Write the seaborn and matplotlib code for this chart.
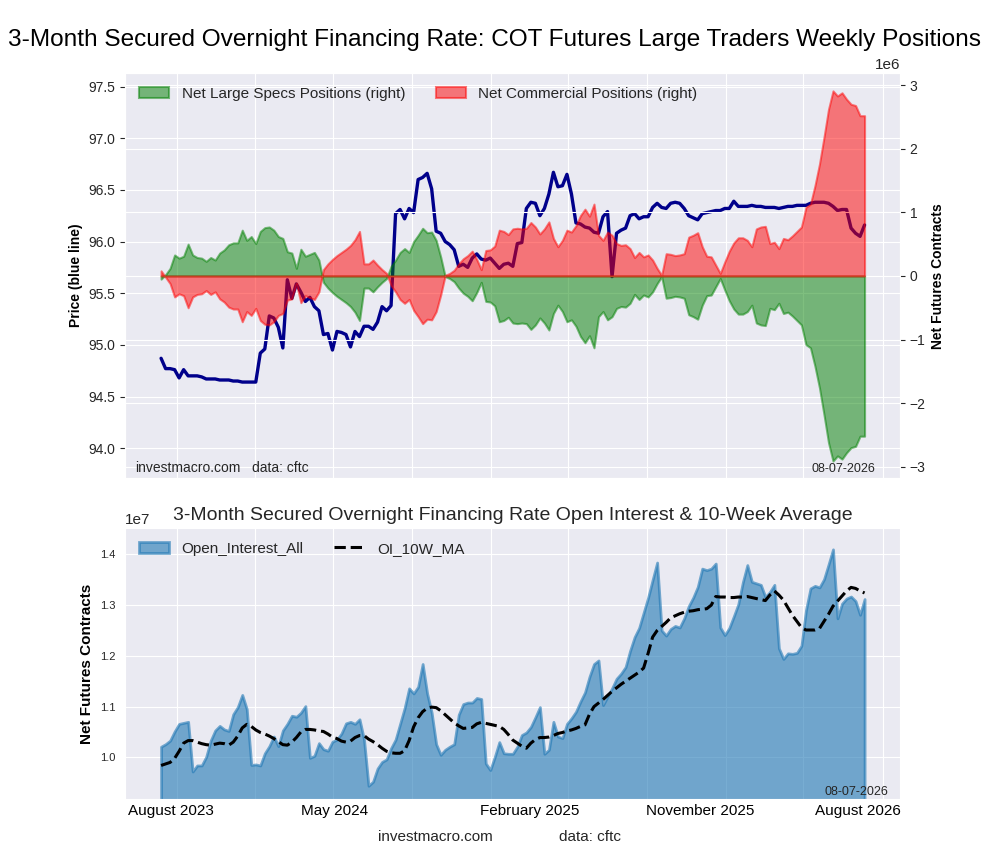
# SOFR 3-month futures: COT large traders positions + open interest
import pandas as pd
import numpy as np
import matplotlib
matplotlib.use("Agg")
import matplotlib.pyplot as plt
import matplotlib.dates as mdates
import matplotlib.ticker as mticker
import seaborn as sns

sns.set_style("darkgrid")
plt.rcParams["font.family"] = ["Liberation Sans", "DejaVu Sans"]

# weekly report dates
weeks = pd.date_range("2023-08-08", periods=157, freq="7D")

# price of the contract (blue line)
price = [
    94.87, 94.77, 94.77, 94.76, 94.68, 94.76, 94.70, 94.70, 94.70, 94.69,
    94.67, 94.67, 94.67, 94.66, 94.66, 94.66, 94.65, 94.65, 94.64, 94.64,
    94.64, 94.64, 94.92, 94.96, 95.28, 95.26, 95.17, 94.97, 95.63, 95.45,
    95.59, 95.51, 95.42, 95.46, 95.37, 95.33, 95.10, 95.11, 94.95, 95.13,
    95.12, 95.10, 94.98, 95.13, 95.08, 95.18, 95.18, 95.15, 95.22, 95.37,
    95.33, 95.38, 96.27, 96.31, 96.22, 96.32, 96.28, 96.60, 96.62, 96.66,
    96.51, 96.10, 96.08, 96.00, 95.97, 95.92, 95.76, 95.78, 95.75, 95.84,
    95.88, 95.83, 95.82, 95.84, 95.79, 95.74, 95.78, 95.79, 95.76, 95.98,
    95.99, 96.32, 96.38, 96.37, 96.25, 96.32, 96.46, 96.67, 96.53, 96.54,
    96.65, 96.46, 96.18, 96.17, 96.14, 96.13, 96.09, 96.08, 96.24, 96.29,
    95.66, 96.08, 96.11, 96.13, 96.25, 96.27, 96.22, 96.24, 96.24, 96.33,
    96.37, 96.33, 96.32, 96.37, 96.38, 96.37, 96.32, 96.25, 96.23, 96.21,
    96.27, 96.28, 96.29, 96.30, 96.30, 96.32, 96.32, 96.39, 96.34, 96.34,
    96.34, 96.35, 96.34, 96.34, 96.33, 96.33, 96.33, 96.32, 96.33, 96.34,
    96.34, 96.35, 96.35, 96.35, 96.37, 96.38, 96.38, 96.38, 96.37, 96.34,
    96.30, 96.31, 96.31, 96.13, 96.08, 96.05, 96.16,
]

# net large speculator positions, millions of contracts
specs_mln = [
    -0.05, 0.02, 0.12, 0.33, 0.28, 0.31, 0.50, 0.33, 0.29, 0.28,
    0.23, 0.29, 0.25, 0.36, 0.41, 0.49, 0.52, 0.52, 0.72, 0.56,
    0.62, 0.51, 0.70, 0.76, 0.77, 0.72, 0.62, 0.59, 0.38, 0.36,
    0.12, 0.42, 0.31, 0.34, 0.37, 0.25, -0.10, -0.19, -0.26, -0.32,
    -0.37, -0.42, -0.48, -0.57, -0.70, -0.19, -0.19, -0.25, -0.17, -0.10,
    -0.04, 0.15, 0.25, 0.37, 0.43, 0.37, 0.54, 0.64, 0.75, 0.68,
    0.69, 0.56, 0.30, -0.01, -0.04, -0.09, -0.19, -0.27, -0.32, -0.39,
    -0.26, -0.10, -0.40, -0.41, -0.47, -0.72, -0.70, -0.65, -0.74, -0.75,
    -0.74, -0.75, -0.84, -0.77, -0.66, -0.74, -0.85, -0.59, -0.46, -0.56,
    -0.72, -0.69, -0.79, -0.95, -1.05, -0.94, -1.13, -0.64, -0.56, -0.69,
    -0.64, -0.51, -0.48, -0.49, -0.43, -0.29, -0.37, -0.30, -0.33, -0.25,
    -0.12, -0.01, -0.35, -0.34, -0.32, -0.33, -0.35, -0.61, -0.64, -0.68,
    -0.46, -0.31, -0.30, -0.17, -0.04, -0.22, -0.39, -0.52, -0.60, -0.60,
    -0.56, -0.46, -0.74, -0.77, -0.78, -0.51, -0.53, -0.43, -0.59, -0.57,
    -0.63, -0.70, -0.77, -1.08, -1.13, -1.42, -1.76, -2.18, -2.62, -2.91,
    -2.83, -2.88, -2.78, -2.70, -2.68, -2.52, -2.52,
]

# net commercial positions, millions of contracts
comm_mln = [
    0.08, -0.02, -0.12, -0.33, -0.28, -0.31, -0.50, -0.33, -0.29, -0.28,
    -0.23, -0.29, -0.25, -0.36, -0.41, -0.49, -0.52, -0.52, -0.72, -0.56,
    -0.62, -0.51, -0.70, -0.76, -0.77, -0.72, -0.62, -0.59, -0.38, -0.36,
    -0.12, -0.42, -0.31, -0.34, -0.37, -0.25, 0.10, 0.19, 0.26, 0.32,
    0.37, 0.42, 0.48, 0.57, 0.70, 0.19, 0.19, 0.25, 0.17, 0.10,
    0.04, -0.15, -0.25, -0.37, -0.43, -0.37, -0.54, -0.64, -0.75, -0.68,
    -0.69, -0.56, -0.30, 0.01, 0.04, 0.09, 0.19, 0.27, 0.32, 0.39,
    0.26, 0.10, 0.40, 0.41, 0.47, 0.72, 0.70, 0.65, 0.74, 0.75,
    0.74, 0.75, 0.84, 0.77, 0.66, 0.74, 0.85, 0.59, 0.46, 0.56,
    0.72, 0.69, 0.79, 0.95, 1.05, 0.94, 1.13, 0.64, 0.56, 0.69,
    0.64, 0.51, 0.48, 0.49, 0.43, 0.29, 0.37, 0.30, 0.33, 0.25,
    0.12, 0.01, 0.35, 0.34, 0.32, 0.33, 0.35, 0.61, 0.64, 0.68,
    0.46, 0.31, 0.30, 0.17, 0.04, 0.22, 0.39, 0.52, 0.60, 0.60,
    0.56, 0.46, 0.74, 0.77, 0.78, 0.51, 0.53, 0.43, 0.59, 0.57,
    0.63, 0.70, 0.77, 1.08, 1.13, 1.42, 1.76, 2.18, 2.62, 2.91,
    2.83, 2.88, 2.78, 2.70, 2.68, 2.52, 2.52,
]

# open interest and its 10-week average, tens of millions of contracts
oi_1e7 = [
    1.021, 1.026, 1.033, 1.051, 1.066, 1.068, 1.070, 0.972, 0.984, 0.984,
    1.001, 1.033, 1.053, 1.062, 1.055, 1.052, 1.085, 1.099, 1.123, 1.095,
    0.985, 0.986, 0.984, 1.008, 1.022, 1.041, 1.022, 1.053, 1.066, 1.082,
    1.080, 1.088, 1.101, 0.999, 1.003, 1.028, 1.016, 1.013, 1.031, 1.035,
    1.047, 1.067, 1.070, 1.066, 1.075, 1.035, 0.944, 0.952, 0.978, 0.991,
    0.996, 1.018, 1.035, 1.066, 1.097, 1.136, 1.126, 1.139, 1.184, 1.126,
    1.088, 1.026, 1.005, 1.015, 1.021, 1.026, 1.084, 1.105, 1.108, 1.108,
    1.117, 1.115, 0.988, 0.975, 1.001, 1.030, 1.008, 1.007, 1.007, 1.021,
    1.044, 1.049, 1.060, 1.079, 1.099, 1.007, 1.015, 1.070, 1.041, 1.038,
    1.066, 1.077, 1.090, 1.110, 1.128, 1.159, 1.184, 1.191, 1.103, 1.120,
    1.136, 1.155, 1.165, 1.178, 1.210, 1.237, 1.255, 1.285, 1.315, 1.350,
    1.384, 1.250, 1.240, 1.253, 1.259, 1.256, 1.274, 1.298, 1.315, 1.336,
    1.372, 1.369, 1.372, 1.382, 1.256, 1.241, 1.255, 1.278, 1.302, 1.345,
    1.379, 1.346, 1.343, 1.340, 1.316, 1.326, 1.340, 1.215, 1.194, 1.205,
    1.204, 1.206, 1.220, 1.290, 1.333, 1.338, 1.335, 1.351, 1.380, 1.410,
    1.274, 1.303, 1.313, 1.317, 1.308, 1.281, 1.312,
]

oi_ma_1e7 = [
    0.984, 0.987, 0.990, 0.998, 1.012, 1.028, 1.033, 1.033, 1.030, 1.027,
    1.025, 1.024, 1.026, 1.028, 1.027, 1.024, 1.030, 1.042, 1.058, 1.065,
    1.061, 1.054, 1.049, 1.046, 1.042, 1.037, 1.031, 1.025, 1.024, 1.030,
    1.039, 1.050, 1.055, 1.055, 1.054, 1.052, 1.051, 1.046, 1.040, 1.037,
    1.032, 1.030, 1.032, 1.039, 1.043, 1.043, 1.036, 1.031, 1.025, 1.018,
    1.012, 1.009, 1.008, 1.008, 1.013, 1.033, 1.060, 1.078, 1.090, 1.097,
    1.099, 1.098, 1.092, 1.084, 1.076, 1.068, 1.062, 1.057, 1.058, 1.059,
    1.066, 1.069, 1.067, 1.065, 1.063, 1.061, 1.055, 1.045, 1.034, 1.028,
    1.022, 1.018, 1.028, 1.035, 1.039, 1.039, 1.040, 1.043, 1.047, 1.049,
    1.052, 1.054, 1.057, 1.061, 1.064, 1.085, 1.100, 1.107, 1.114, 1.122,
    1.130, 1.137, 1.144, 1.150, 1.156, 1.162, 1.168, 1.176, 1.205, 1.237,
    1.250, 1.258, 1.266, 1.275, 1.279, 1.283, 1.286, 1.288, 1.289, 1.291,
    1.292, 1.293, 1.300, 1.317, 1.316, 1.316, 1.315, 1.315, 1.316, 1.316,
    1.317, 1.315, 1.313, 1.311, 1.309, 1.320, 1.328, 1.320, 1.310, 1.295,
    1.280, 1.268, 1.256, 1.251, 1.251, 1.251, 1.254, 1.268, 1.282, 1.298,
    1.308, 1.318, 1.328, 1.335, 1.333, 1.328, 1.324,
]

# x tick labels of the lower panel
tick_labels = ["August 2023", "May 2024", "February 2025", "November 2025", "August 2026"]
report_date = "08-07-2026"

df = pd.DataFrame({
    "Date": weeks,
    "Price": price,
    "Specs": np.array(specs_mln) * 1e6,
    "Comm": np.array(comm_mln) * 1e6,
    "Open_Interest_All": np.array(oi_1e7) * 1e7,
    "OI_10W_MA": np.array(oi_ma_1e7) * 1e7,
})

fig = plt.figure(figsize=(10, 8.6), dpi=100)
ax1 = fig.add_axes([0.125, 0.444, 0.775, 0.471])
ax3 = fig.add_axes([0.125, 0.071, 0.775, 0.315])

# figure title (kept inside the canvas)
fig.text(0.008, 0.9465, "3-Month Secured Overnight Financing Rate: COT Futures Large Traders Weekly Positions",
         fontsize=17.6, ha="left", va="baseline", color="black")

# --- top panel ---
sns.lineplot(data=df, x="Date", y="Price", ax=ax1, color="darkblue", linewidth=2.4)
ax1.set_ylim(93.71, 97.63)
ax1.set_ylabel("Price (blue line)", fontsize=10, fontweight="bold", color="black")
ax1.set_xlabel("")
ax1.tick_params(axis="y", labelsize=10)
ax1.tick_params(axis="x", labelbottom=False)

ax2 = ax1.twinx()
ax2.fill_between(df["Date"], 0, df["Specs"], color="green", alpha=0.5, linewidth=1.5,
                 label="Net Large Specs Positions (right)")
ax2.fill_between(df["Date"], 0, df["Comm"], color="red", alpha=0.5, linewidth=1.5,
                 label="Net Commercial Positions (right)")
ax2.set_ylim(-3.18e6, 3.19e6)
ax2.set_ylabel("Net Futures Contracts", fontsize=10, fontweight="bold", color="black")
ax2.tick_params(axis="y", labelsize=10)
ax2.yaxis.get_offset_text().set_fontsize(11)
ax2.legend(loc="upper left", ncol=2, fontsize=11, frameon=False)

ax2.text(0.013, 0.008, "investmacro.com", transform=ax2.transAxes, fontsize=10, va="bottom")
ax2.text(0.164, 0.008, "data: cftc", transform=ax2.transAxes, fontsize=10, va="bottom")
ax2.text(0.968, 0.008, report_date, transform=ax2.transAxes, fontsize=9, va="bottom", ha="right")

# --- bottom panel ---
ax3.fill_between(df["Date"], 0, df["Open_Interest_All"], color="#1f77b4", alpha=0.6,
                 linewidth=2, label="Open_Interest_All")
sns.lineplot(data=df, x="Date", y="OI_10W_MA", ax=ax3, color="black", linewidth=2.2,
             linestyle="--", label="OI_10W_MA")
ax3.set_ylim(0.918e7, 1.452e7)
ax3.set_title("3-Month Secured Overnight Financing Rate Open Interest & 10-Week Average", fontsize=14)
ax3.set_ylabel("Net Futures Contracts", fontsize=11, fontweight="bold", color="black")
ax3.set_xlabel("")
ax3.tick_params(axis="y", labelsize=8)
ax3.yaxis.get_offset_text().set_fontsize(11)
ax3.legend(loc="upper left", ncol=2, fontsize=11, frameon=False)
ax3.text(0.985, 0.005, report_date, transform=ax3.transAxes, fontsize=9, va="bottom", ha="right")

# shared date axis: gridlines every 4 months, labels on minor ticks
for ax in (ax1, ax3):
    ax.set_xlim(pd.Timestamp("2023-06-13"), pd.Timestamp("2026-09-28"))
    ax.xaxis.set_major_locator(mdates.MonthLocator(bymonth=[1, 5, 9]))
    ax.xaxis.set_major_formatter(mticker.NullFormatter())

label_pos = mdates.date2num(pd.to_datetime(["2023-08-24", "2024-05-03", "2025-03-02",
                                             "2025-11-22", "2026-07-24"]))
ax3.xaxis.set_minor_locator(mticker.FixedLocator(label_pos))
ax3.xaxis.set_minor_formatter(mticker.FixedFormatter(tick_labels))
ax3.tick_params(axis="x", which="minor", labelsize=11, length=0, labelcolor="black")
ax3.grid(False, which="minor")

fig.text(0.378, 0.022, "investmacro.com", fontsize=11, va="baseline")
fig.text(0.559, 0.022, "data: cftc", fontsize=11, va="baseline")

fig.savefig("out.png", dpi=100)
